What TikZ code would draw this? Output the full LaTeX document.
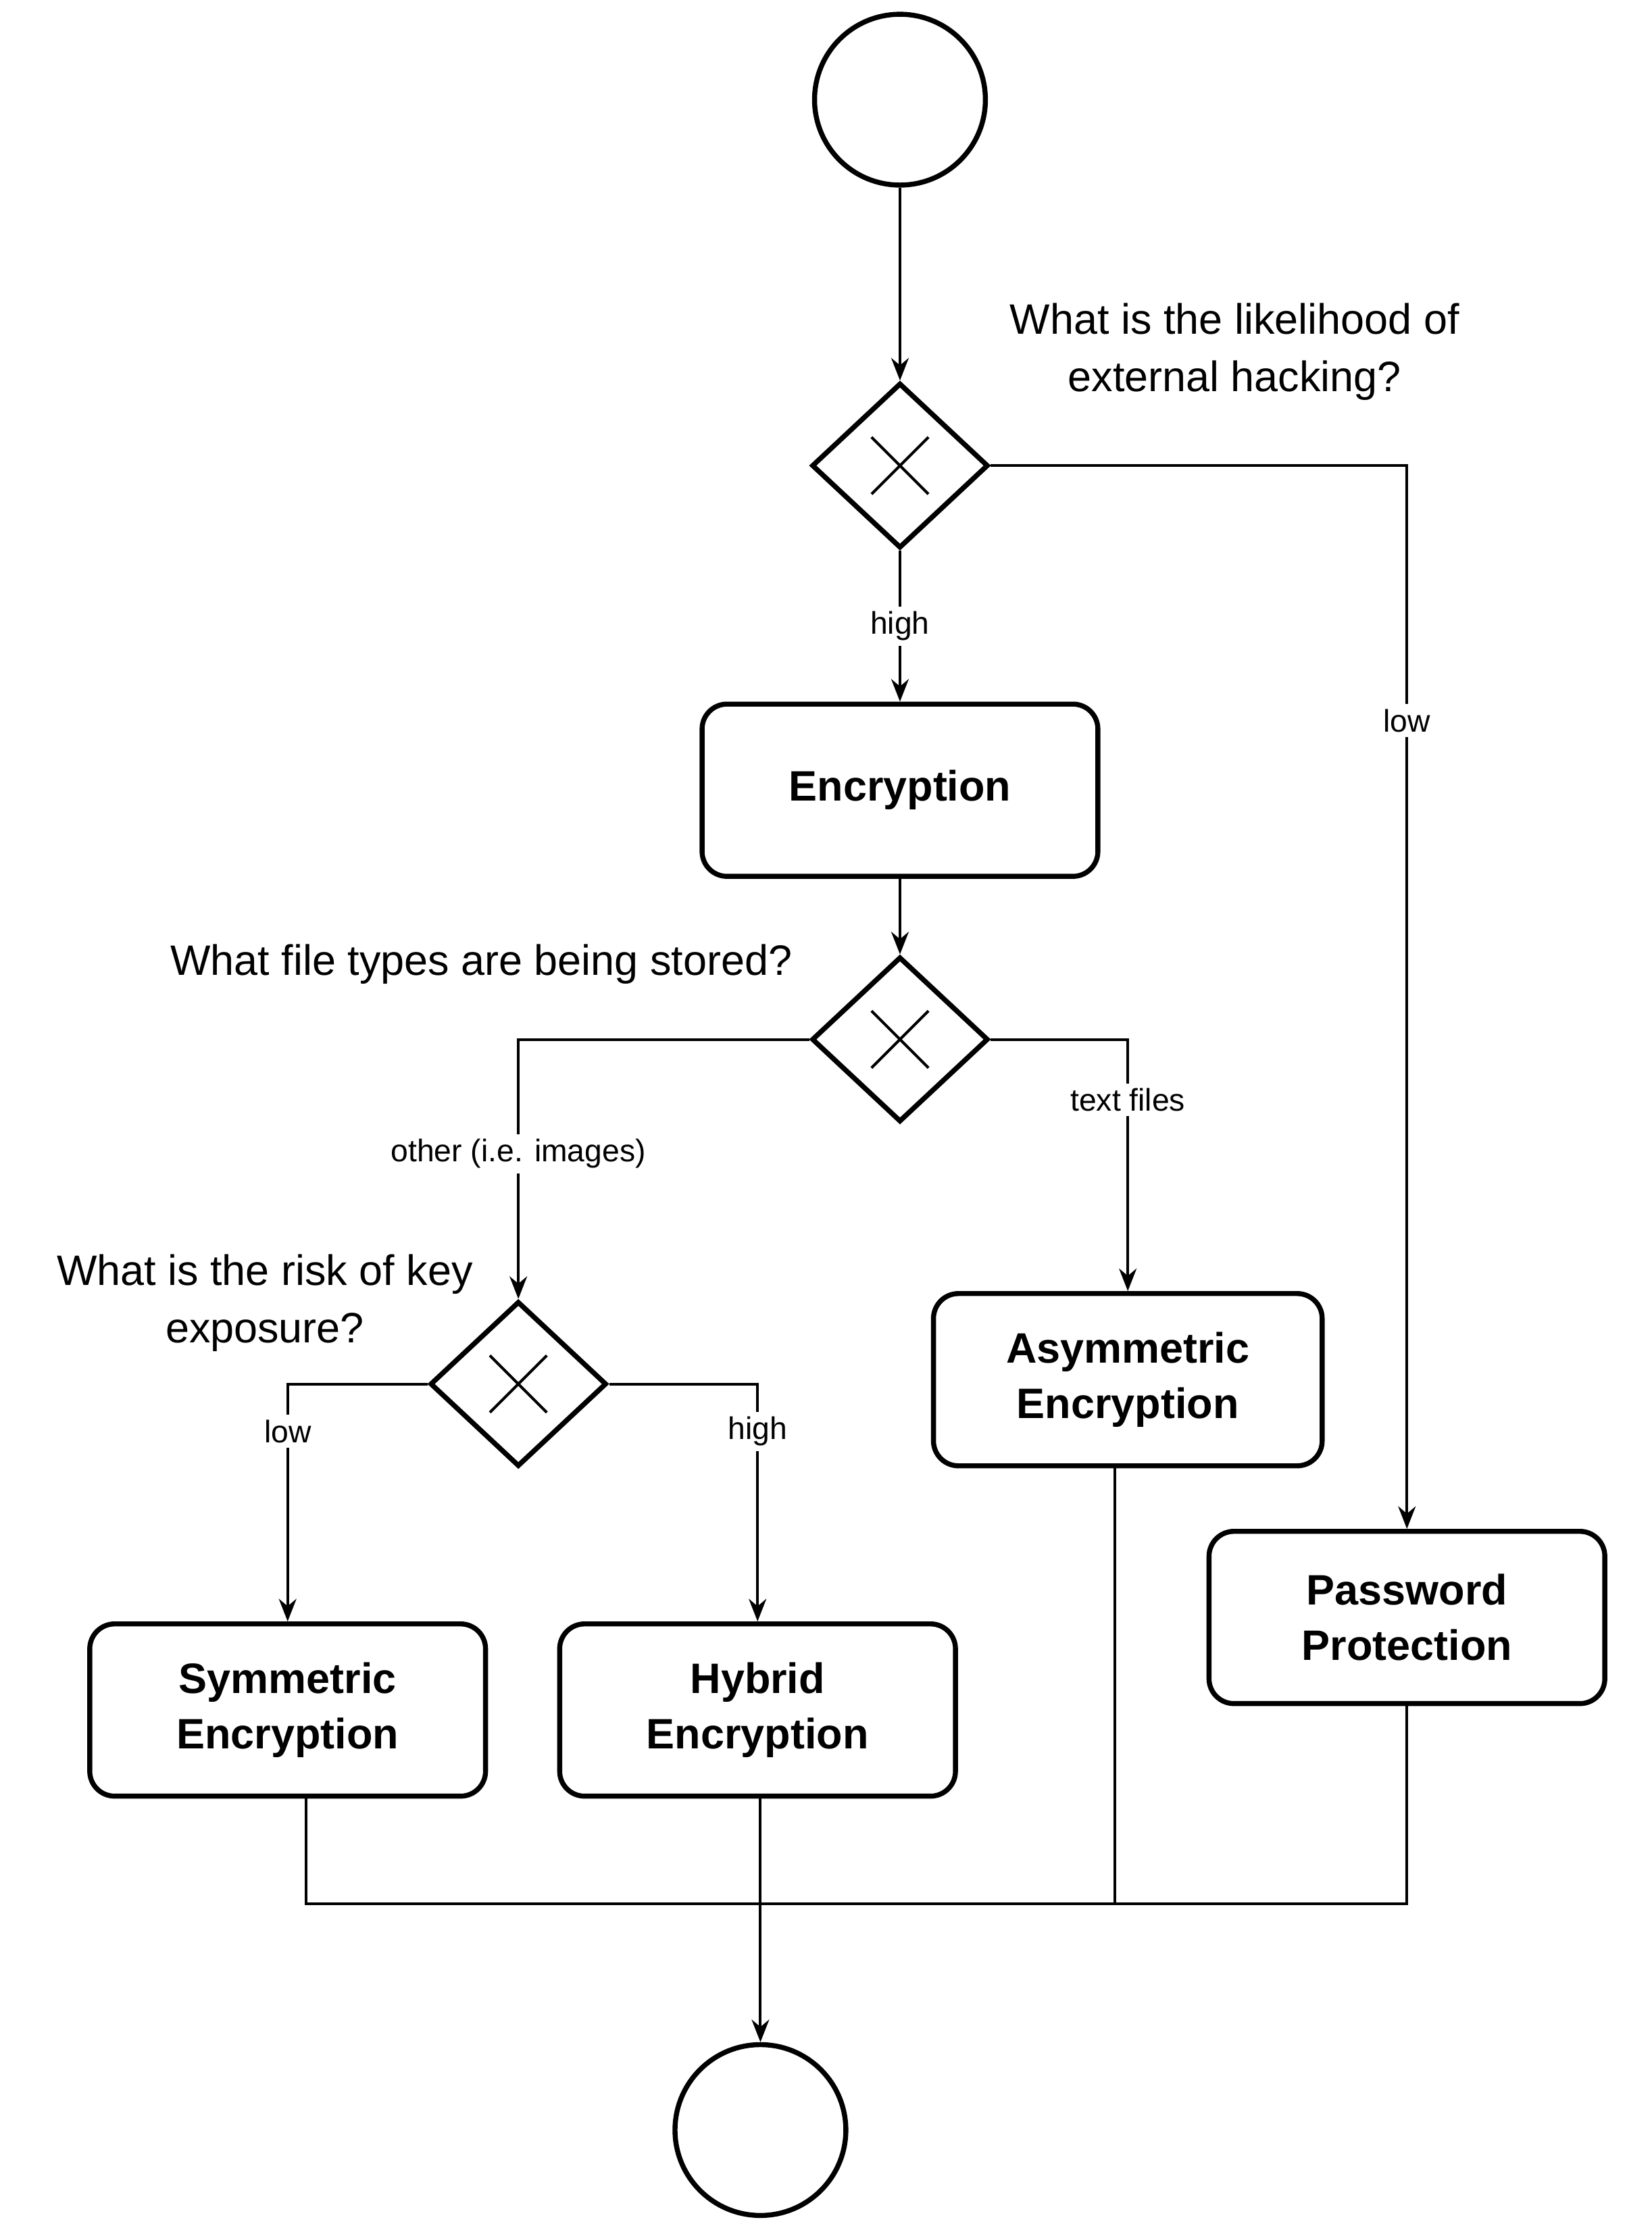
\documentclass[tikz,border=0pt]{standalone}
\usepackage{fontspec}
\setmainfont{Liberation Sans}
\usetikzlibrary{shapes.geometric,arrows.meta}
\begin{document}
\begin{tikzpicture}[x=0.02cm,y=-0.02cm,
  line width=1.1pt,
  arr/.style={-{Stealth[length=9pt,width=7pt]}},
  term/.style={circle,draw,line width=2pt,minimum size=2.4cm,inner sep=0},
  gate/.style={diamond,draw,line width=2pt,minimum width=2.48cm,minimum height=2.32cm,inner sep=0},
  act/.style={rectangle,rounded corners=0.35cm,draw,line width=2pt,minimum width=5.56cm,minimum height=2.42cm,align=center,font=\fontsize{17}{22}\selectfont\bfseries},
  q/.style={align=center,font=\fontsize{17}{23}\selectfont},
  lbl/.style={fill=white,inner sep=2pt,font=\fontsize{12.5}{15}\selectfont}]
\useasboundingbox (0,0) rectangle (1160,1562);
\node[term] (start) at (632,70) {};
\node[gate] (d1) at (632,327) {};
\node[act] (enc) at (632,555) {Encryption};
\node[gate] (d2) at (632,730) {};
\node[gate] (d3) at (364,972) {};
\node[act] (sym) at (202,1201) {Symmetric\\Encryption};
\node[act] (hyb) at (532,1201) {Hybrid\\Encryption};
\node[act,minimum width=5.46cm] (asym) at (792,969) {Asymmetric\\Encryption};
\node[act] (pw) at (988,1136) {Password\\Protection};
\node[term] (end) at (534,1496) {};
\foreach \d in {d1,d2,d3}{
  \draw ([shift={(-20,-20)}]\d.center) -- ([shift={(20,20)}]\d.center);
  \draw ([shift={(20,-20)}]\d.center) -- ([shift={(-20,20)}]\d.center);
}
\node[q] (q1) at (867,247) {What is the likelihood of\\external hacking?};
\node[q] (q2) at (338,677) {What file types are being stored?};
\node[q] (q3) at (186,915) {What is the risk of key\\exposure?};
\draw[arr] (start) -- (d1);
\draw[arr] (d1) -- node[lbl] {high} (enc);
\draw[arr] (d1.east) -| node[lbl,pos=0.62] {low} (pw.north);
\draw[arr] (enc) -- (d2);
\draw[arr] (d2.west) -| node[lbl,pos=0.72] {other (i.e. images)} (d3.north);
\draw[arr] (d2.east) -| node[lbl,pos=0.62] {text files} (asym.north);
\draw[arr] (d3.west) -| node[lbl,pos=0.6] {low} (sym.north);
\draw[arr] (d3.east) -| node[lbl,pos=0.6] {high} (hyb.north);
\coordinate (m1) at (215,1337);
\coordinate (m2) at (783,1337);
\coordinate (m3) at (988,1337);
\draw (sym.south -| m1) -- (m1) -- (m3) -- (pw.south -| m3);
\draw (asym.south -| m2) -- (m2);
\draw[arr] (hyb.south -| end) -- (end);
\end{tikzpicture}
\end{document}
